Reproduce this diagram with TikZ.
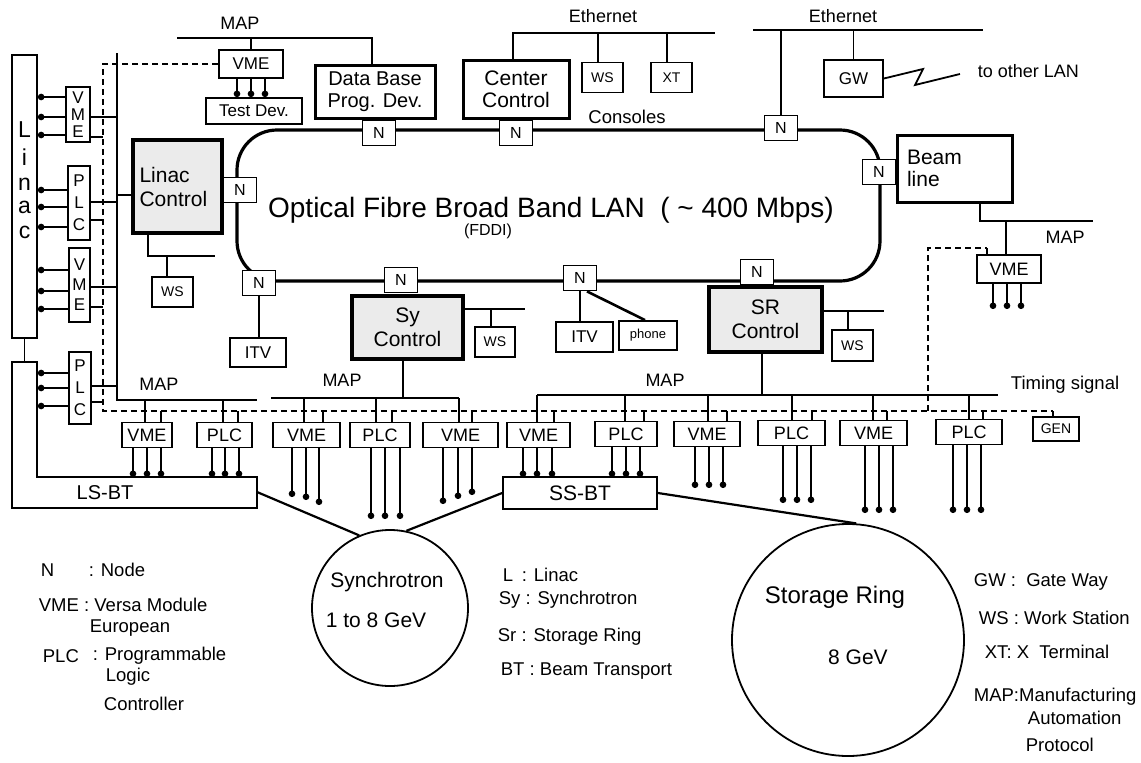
\documentclass[tikz,border=0pt]{standalone}
\usepackage{fontspec}
\setmainfont{Liberation Sans}
\usetikzlibrary{arrows.meta}
\newcommand{\fsz}[2]{\fontsize{#1}{#2}\selectfont}
\begin{document}
\begin{tikzpicture}[x=1pt,y=-1pt,line width=1.8pt,
  every node/.style={inner sep=0pt,font=\fsz{18}{21}},
  bx/.style={draw,line width=1.8pt,fill=white},
  ctl/.style={draw,line width=3.2pt,fill=gray!16,align=center,font=\fsz{21}{24}},
  thk/.style={draw,line width=3pt,fill=white,align=center,font=\fsz{20}{23}},
  nd/.style={bx,minimum width=33pt,minimum height=25pt,font=\fsz{16}{18}},
  ws/.style={bx,minimum width=41pt,minimum height=30pt,font=\fsz{14}{16}},
  mod/.style={bx,minimum height=25pt,font=\fsz{18}{20}},
  vmod/.style={bx,align=center},
  pin/.style={line width=1.8pt,-{Circle[length=6.5pt,width=6.5pt]}},
  pinl/.style={line width=1.8pt,{Circle[length=6.5pt,width=6.5pt]}-},
  tdash/.style={line width=1.6pt,dash pattern=on 6pt off 4pt},
  lbl/.style={font=\fsz{18}{20}},
  leg/.style={anchor=west,font=\fsz{18.5}{21}}]
\useasboundingbox (0,0) rectangle (1141,763);

% ---------- FDDI ring ----------
\draw[line width=3.2pt,rounded corners=40pt] (237,130) rectangle (880,281);
\node[font=\fsz{28}{30}] (title) at (551,210) {Optical Fibre Broad Band LAN\ \ ( \textasciitilde\ 400 Mbps)};
\node[font=\fsz{16}{18}] (fddi) at (488,231) {(FDDI)};

% ---------- top left ----------
\node[bx,minimum width=64pt,minimum height=28pt,font=\fsz{17}{19}] (vmeT) at (251,64) {VME};
\node[bx,minimum width=96pt,minimum height=26pt,font=\fsz{17}{19}] (tdev) at (254,111) {Test Dev.};
\node[thk,minimum width=120pt,minimum height=53pt,font=\fsz{20}{22}] (db) at (375,91.5) {Data Base\\Prog. Dev.};
\node[lbl] (mapT) at (240,23) {MAP};
\draw (177,38) -| (db.north -| 372,0);
\draw (vmeT.north) -- (vmeT.north |- 0,38);
\foreach \x in {237,251,265} \draw[pin] (vmeT.south -| \x,0) -- (tdev.north -| \x,0);
\node[nd] (nDB) at (379,133) {N};

% ---------- center control ----------
\node[thk,minimum width=106pt,minimum height=58pt,font=\fsz{21}{22}] (cc) at (516,89) {Center\\Control};
\node[ws] (wsT) at (602.5,77.5) {WS};
\node[ws] (xt) at (671.5,77.5) {XT};
\node[lbl] (eth1) at (603,16) {Ethernet};
\draw (cc.north -| 513,0) |- (715,33);
\draw (wsT.north -| 598,0) -- (598,33);
\draw (xt.north -| 667,0) -- (667,33);
\node[font=\fsz{18.5}{20}] (cons) at (627,117) {Consoles};
\node[nd] (nCC) at (516,133) {N};

% ---------- right top ----------
\node[lbl] (eth2) at (843,16) {Ethernet};
\draw (753,30) -- (983,30);
\node[nd] (nE) at (781,128) {N};
\draw (nE.north) -- (nE.north |- 0,30);
\node[bx,minimum width=59pt,minimum height=37pt,font=\fsz{17}{19}] (gw) at (853.5,78.5) {GW};
\draw (gw.north) -- (gw.north |- 0,30);
\draw (gw.east) -- (923,69) -- (915,85) -- (960,74);
\node[anchor=west] (olan) at (977,71) {to other LAN};
\node[thk,minimum width=115pt,minimum height=67pt,text width=95pt,align=left,font=\fsz{21}{22}] (beam) at (954.5,168.5) {Beam\\line};
\node[nd] (nB) at (879,172) {N};
\draw (beam.south -| 980,0) |- (1093,221);
\node[lbl] (mapB) at (1065,237) {MAP};
\node[mod,minimum width=64pt,minimum height=28pt] (vmeR) at (1009,269) {VME};
\draw (vmeR.north -| 1006,0) -- (1006,221);
\foreach \x in {993,1007,1021} \draw[pin] (vmeR.south -| \x,0) -- (\x,309);

% ---------- Linac ----------
\node[draw,line width=1.8pt,minimum width=25pt,minimum height=283pt] (linac) at (24.5,196.5) {};
\foreach \l/\y in {L/130,i/157,n/184,a/207,c/232} \node[font=\fsz{23}{24}] (lt\l) at (24.5,\y) {\l};
\node[vmod,minimum width=24pt,minimum height=55pt,font=\fsz{17}{17}] (vL1) at (78,114.5) {V\\M\\E};
\node[vmod,minimum width=22pt,minimum height=74pt,font=\fsz{17}{22}] (pL1) at (79,203) {P\\L\\C};
\node[vmod,minimum width=21pt,minimum height=74pt,font=\fsz{17}{20}] (vL2) at (79.5,285) {V\\M\\E};
\node[vmod,minimum width=22pt,minimum height=72pt,font=\fsz{17}{22}] (pL2) at (80,388) {P\\L\\C};
\foreach \n/\y in {vL1/97,vL1/117,vL1/135,pL1/190,pL1/207,pL1/227,vL2/270,vL2/291,vL2/309,pL2/373,pL2/388,pL2/406}
  \draw[pinl] (linac.east |- 0,\y) -- (\n.west |- 0,\y);
\draw (117,53) -- (117,400) -- (257,400);
\foreach \n/\y in {vL1/117,pL1/202,vL2/287,pL2/386} \draw (\n.east |- 0,\y) -- (117,\y);
\foreach \n/\y in {vL1/137,pL1/220,vL2/307,pL2/402} \draw (\n.east |- 0,\y) -- (103,\y);
\draw (12,362) -- (37,362) -- (37,477) -- (257,477) -- (257,508) -- (12,508) -- cycle;
\node[font=\fsz{20}{22}] (lsbt) at (105,493) {LS-BT};
\coordinate (lsbtR) at (257,492);
\draw (linac.south) -- (linac.south |- 0,362);

% ---------- Linac control ----------
\node[ctl,minimum width=89pt,minimum height=93pt,text width=76pt,align=left] (lc) at (177.5,186.5) {Linac\\Control};
\node[nd] (nL) at (240,190) {N};
\draw (lc.west |- 0,195) -- (117,195);
\draw (lc.south -| 148,0) |- (215,256);
\node[ws] (wsL) at (172.5,292) {WS};
\draw (wsL.north -| 167,0) -- (167,256);
\node[nd] (nI) at (259,283) {N};
\node[bx,minimum width=56pt,minimum height=29pt,font=\fsz{17}{19}] (itvL) at (258,352.5) {ITV};
\draw (nI.south) -- (nI.south |- itvL.north);

% ---------- Sy control ----------
\node[nd] (nS) at (401,280) {N};
\node[ctl,minimum width=111pt,minimum height=63pt] (syc) at (407.5,327.5) {Sy\\Control};
\draw (syc.east |- 0,309) -- (525,309);
\node[ws,minimum width=40pt] (wsS) at (495,342) {WS};
\draw (wsS.north -| 491,0) -- (491,309);
\draw (syc.south -| 403,0) -- (403,398);
\draw (271,398) -- (459,398);

% ---------- ITV / phone ----------
\node[nd] (nP) at (580,278) {N};
\node[bx,minimum width=57pt,minimum height=30pt,font=\fsz{17}{19}] (itvC) at (584.5,337) {ITV};
\node[bx,minimum width=58pt,minimum height=29pt,font=\fsz{13}{15}] (phone) at (648,335.5) {phone};
\draw (nP.south) -- (nP.south |- itvC.north);
\draw[line width=2.6pt] ([xshift=7pt]nP.south) -- ([xshift=-3pt]phone.north);

% ---------- SR control ----------
\node[nd] (nR) at (757,272) {N};
\node[ctl,minimum width=113pt,minimum height=65pt] (src) at (765.5,319.5) {SR\\Control};
\draw (src.east |- 0,311) -- (884,311);
\node[ws,minimum height=31pt] (wsR) at (852.5,345.5) {WS};
\draw (wsR.north -| 848,0) -- (848,311);
\draw (src.south -| 762,0) -- (762,395);
\draw (537,395) -- (998,395);

% ---------- MAP labels ----------
\node[lbl] (mapL) at (159,384) {MAP};
\node[lbl] (mapS) at (342,380) {MAP};
\node[lbl] (mapR) at (665,380) {MAP};
\node[lbl,anchor=west,font=\fsz{18.5}{20}] (timing) at (1010,385) {Timing signal};

% ---------- module row ----------
\node[mod,minimum width=50pt] (m1) at (147,435) {VME};
\node[mod,minimum width=55pt] (m2) at (224.5,435) {PLC};
\node[mod,minimum width=67pt] (m3) at (306.5,435) {VME};
\node[mod,minimum width=60pt] (m4) at (380,435) {PLC};
\node[mod,minimum width=75pt] (m5) at (460.5,435) {VME};
\node[mod,minimum width=63pt] (m6) at (538.5,435) {VME};
\node[mod,minimum width=62pt] (m7) at (626,434) {PLC};
\node[mod,minimum width=66pt] (m8) at (707,434) {VME};
\node[mod,minimum width=67pt] (m9) at (791.5,433) {PLC};
\node[mod,minimum width=67pt] (m10) at (873.5,433) {VME};
\node[mod,minimum width=66pt] (m11) at (969,432) {PLC};
\node[bx,minimum width=46pt,minimum height=24pt,font=\fsz{14}{16}] (gen) at (1056,429) {GEN};

\draw[tdash] (vmeT.west) -| (103,411) -- (1053,411);
\draw (1053,411) -- (gen.north -| 1053,0);
\draw[tdash] (928,411) |- (987,248);
\draw (987,248) -- (vmeR.north -| 987,0);

\foreach \m/\s/\d/\b in {m1/145/161/400,m2/223/238/400,m3/304/323/398,m4/376/392/398,m5/459/472/398,m6/537/554/395,m7/625/644/395,m8/708/727/395,m9/792/812/395,m10/873/887/395,m11/969/983/395}{
  \draw (\m.north -| \s,0) -- (\s,\b);
  \draw (\m.north -| \d,0) -- (\d,411);
}
\foreach \m/\a/\b/\c/\ea/\eb/\ec in {m1/133/147/161/477/477/477,m2/212/225/239/477/477/477,m3/292/306/319/497/500/505,m4/371/385/400/519/519/519,m5/443/458/472/504/499/495,m6/523/537/552/477/477/477,m7/612/626/640/477/477/477,m8/695/709/723/488/488/488,m9/783/797/811/503/503/503,m10/865/879/893/513/513/513,m11/953/967/981/513/513/513}{
  \draw[pin] (\m.south -| \a,0) -- (\a,\ea);
  \draw[pin] (\m.south -| \b,0) -- (\b,\eb);
  \draw[pin] (\m.south -| \c,0) -- (\c,\ec);
}

% ---------- beam transport & rings ----------
\node[bx,minimum width=154pt,minimum height=32pt,font=\fsz{21}{23}] (ssbt) at (580,493) {SS-BT};
\node[draw,circle,line width=1.8pt,minimum size=156pt] (syn) at (390,608) {};
\node[font=\fsz{21}{23}] (synt) at (387,582) {Synchrotron};
\node[font=\fsz{21}{23}] (syne) at (376,620) {1 to 8 GeV};
\node[draw,circle,line width=1.8pt,minimum size=232pt] (stor) at (848,640) {};
\node[font=\fsz{24}{26}] (stort) at (835,597) {Storage Ring};
\node[font=\fsz{21}{23}] (store) at (858,657) {8 GeV};
\draw[line width=2.2pt] (lsbtR) -- (syn.113);
\draw[line width=2.2pt] (ssbt.west) -- (syn.78);
\draw[line width=2.2pt] (ssbt.east) -- (stor.86);

% ---------- legends ----------
\node[leg] (lgN) at (40,570) {N};
\node[leg] (lgNd) at (88,570) {: Node};
\node[leg] (lgV) at (38,605) {VME : Versa Module};
\node[leg] (lgV2) at (89,628) {European};
\node[leg] (lgP) at (42,656) {PLC};
\node[leg] (lgP1) at (92,656) {: Programmable};
\node[leg] (lgP2) at (105,677) {Logic};
\node[leg] (lgP3) at (103,704) {Controller};
\node[leg] (lgL) at (502,575) {L};
\node[leg] (lgL2) at (521,575) {: Linac};
\node[leg] (lgSy) at (498,600) {Sy : Synchrotron};
\node[leg] (lgSr) at (497,637) {Sr : Storage Ring};
\node[leg] (lgBT) at (500,671) {BT : Beam Transport};
\node[leg] (lgGW) at (973,582) {GW :\ \ Gate Way};
\node[leg] (lgWS) at (978,618) {WS : Work Station};
\node[leg] (lgXT) at (984,652) {XT: X\ \ Terminal};
\node[leg] (lgM1) at (973,697) {MAP:Manufacturing};
\node[leg] (lgM2) at (1027,718) {Automation};
\node[leg] (lgM3) at (1025,745) {Protocol};
\end{tikzpicture}
\end{document}
